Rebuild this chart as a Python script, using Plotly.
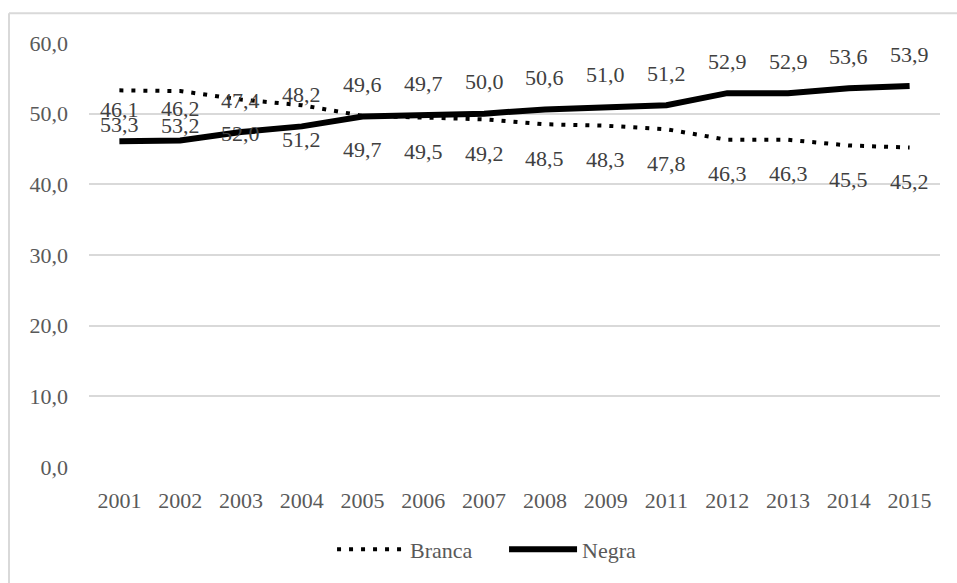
import plotly.graph_objects as go

anos = ["2001", "2002", "2003", "2004", "2005", "2006", "2007",
        "2008", "2009", "2011", "2012", "2013", "2014", "2015"]
branca = [53.3, 53.2, 52.0, 51.2, 49.7, 49.5, 49.2, 48.5, 48.3, 47.8, 46.3, 46.3, 45.5, 45.2]
negra = [46.1, 46.2, 47.4, 48.2, 49.6, 49.7, 50.0, 50.6, 51.0, 51.2, 52.9, 52.9, 53.6, 53.9]
y_ticks = [0, 10, 20, 30, 40, 50, 60]

FONT = "Liberation Serif"
GRID = "#d9d9d9"
SIZE = 22


def fmt(v):
    return f"{v:.1f}".replace(".", ",")


fig = go.Figure()
fig.add_trace(go.Scatter(
    x=anos, y=branca, name="Branca", mode="lines",
    line=dict(color="black", width=4, dash="4px,8px"),
))
fig.add_trace(go.Scatter(
    x=anos, y=negra, name="Negra", mode="lines",
    line=dict(color="black", width=6),
))

# value labels: Branca below its line, Negra above (x given as category index)
annotations = []
for i, v in enumerate(branca):
    annotations.append(dict(x=i, y=v, xref="x", yref="y", text=fmt(v), showarrow=False,
                            yshift=-34, font=dict(family=FONT, size=SIZE, color="#404040")))
for i, v in enumerate(negra):
    annotations.append(dict(x=i, y=v, xref="x", yref="y", text=fmt(v), showarrow=False,
                            yshift=32, font=dict(family=FONT, size=SIZE, color="#404040")))

# chart frame (left and top edges)
shapes = [
    dict(type="line", xref="paper", yref="paper", x0=-0.094, x1=-0.094, y0=-0.3, y1=1.07,
         line=dict(color=GRID, width=2)),
    dict(type="line", xref="paper", yref="paper", x0=-0.094, x1=1.03, y0=1.07, y1=1.07,
         line=dict(color=GRID, width=2)),
]

fig.update_layout(
    width=957, height=583,
    margin=dict(l=89, r=17, t=43, b=110),
    paper_bgcolor="white", plot_bgcolor="white",
    separators=",.",
    font=dict(family=FONT, size=SIZE, color="#595959"),
    annotations=annotations,
    shapes=shapes,
    showlegend=True,
    legend=dict(orientation="h", x=0.2856, xanchor="left", y=-0.145, yanchor="top",
                itemwidth=68, entrywidth=89, entrywidthmode="pixels",
                font=dict(family=FONT, size=SIZE, color="#595959")),
    xaxis=dict(type="category", range=[-0.5, 13.5], showgrid=False, zeroline=False,
               showline=False, ticks="", ticklabelstandoff=18,
               tickfont=dict(family=FONT, size=SIZE, color="#595959")),
    yaxis=dict(range=[0, 60], tickvals=y_ticks, tickformat=".1f", showgrid=True,
               gridcolor=GRID, gridwidth=2, zeroline=False, showline=False, ticks="",
               ticklabelstandoff=20,
               tickfont=dict(family=FONT, size=SIZE, color="#595959")),
)

fig.write_html("out.html")
